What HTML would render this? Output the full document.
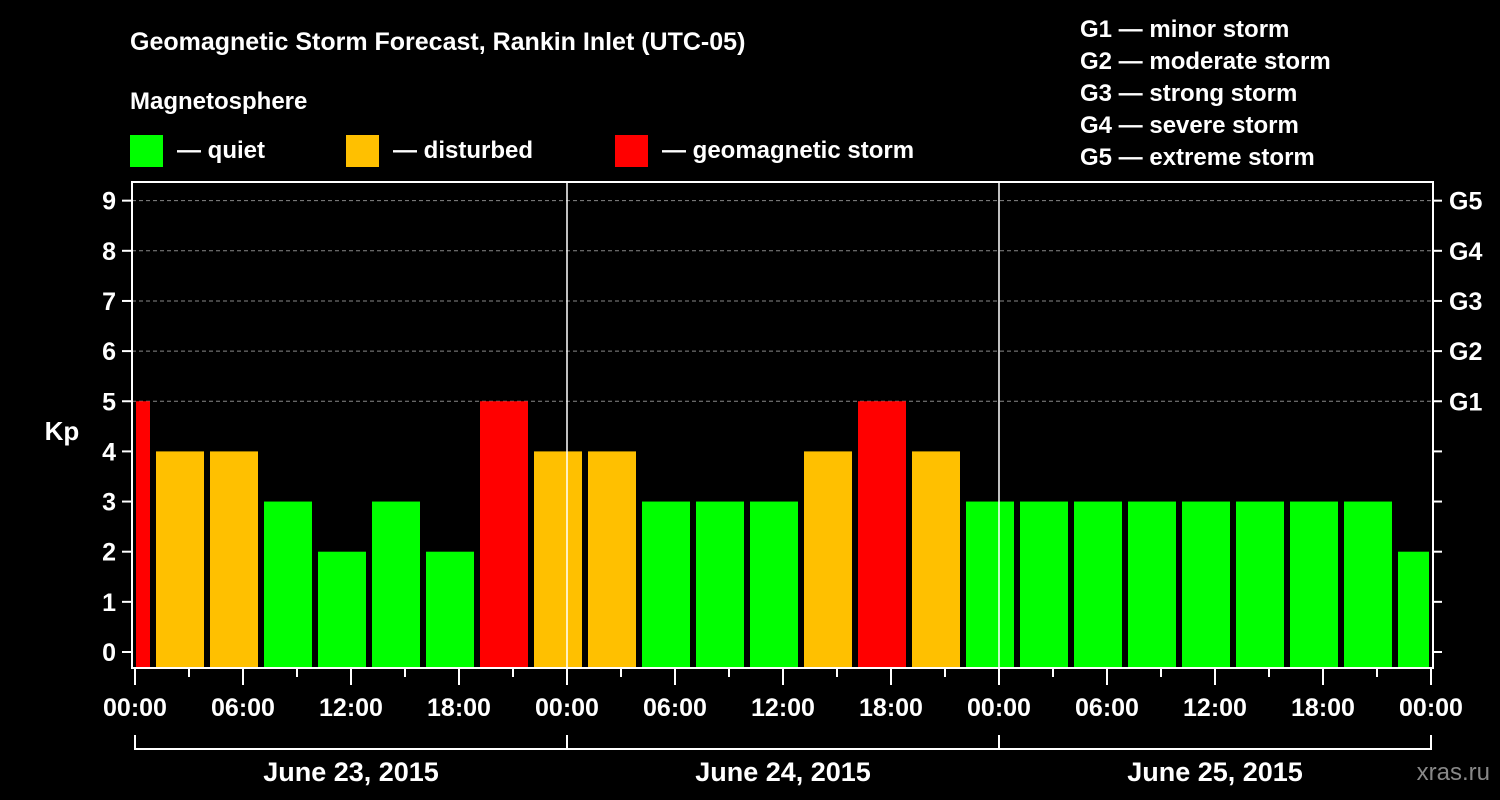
<!DOCTYPE html>
<html><head><meta charset="utf-8"><style>
html,body{margin:0;padding:0;background:#000;width:1500px;height:800px;overflow:hidden}
svg{display:block;font-family:"Liberation Sans",Arial,sans-serif;font-weight:bold}
</style></head><body>
<svg id="c" width="1500" height="800" viewBox="0 0 1500 800">
<text x="130" y="50" fill="#fff" font-size="25">Geomagnetic Storm Forecast, Rankin Inlet (UTC-05)</text>
<text x="130" y="109" fill="#fff" font-size="24">Magnetosphere</text>
<g><rect x="130" y="135" width="33" height="32" fill="#00ff00"/><text x="177" y="158" fill="#fff" font-size="24">— quiet</text></g>
<g><rect x="346" y="135" width="33" height="32" fill="#ffc000"/><text x="393" y="158" fill="#fff" font-size="24">— disturbed</text></g>
<g><rect x="615" y="135" width="33" height="32" fill="#ff0000"/><text x="662" y="158" fill="#fff" font-size="24">— geomagnetic storm</text></g>
<g fill="#fff" font-size="24">
<text x="1080" y="37">G1 — minor storm</text>
<text x="1080" y="69">G2 — moderate storm</text>
<text x="1080" y="101">G3 — strong storm</text>
<text x="1080" y="133">G4 — severe storm</text>
<text x="1080" y="165">G5 — extreme storm</text>
</g>
<text x="62" y="440" fill="#fff" font-size="26" text-anchor="middle">Kp</text>
<text x="1490" y="780" fill="#888" font-size="24" text-anchor="end" font-weight="normal">xras.ru</text>
<g id="plot"></g>
</svg>
<script>
const slotStarts=[-2,1,4,7,10,13,16,19,22,25,28,31,34,37,40,43,46,49,52,55,58,61,64,67,70];
const kpValues=[5,4,4,3,2,3,2,5,4,4,3,3,3,4,5,4,3,3,3,3,3,3,3,3,2];
const yTicks=[0,1,2,3,4,5,6,7,8,9];
const gLabels=["G1","G2","G3","G4","G5"];
const gLevels=[5,6,7,8,9];
const xTickLabels=["00:00","06:00","12:00","18:00","00:00","06:00","12:00","18:00","00:00","06:00","12:00","18:00","00:00"];
const dayLabels=["June 23, 2015","June 24, 2015","June 25, 2015"];
const NS="http://www.w3.org/2000/svg";
const g=document.getElementById('plot');
const L=132,R=1433,T=182,B=668;
const x=h=>135+h*18;
const y=v=>652-v*50.15;
function mk(t,a,p){const e=document.createElementNS(NS,t);for(const k in a)e.setAttribute(k,a[k]);(p||g).appendChild(e);return e;}
const col=v=>v>=5?'#ff0000':(v>=4?'#ffc000':'#00ff00');
yTicks.forEach(v=>{if(v>=5){const l=mk('line',{x1:L,x2:R,y1:y(v),y2:y(v),stroke:'#888','stroke-dasharray':'4,3','stroke-width':1});

}});
slotStarts.forEach((s,i)=>{let a=Math.max(x(s)+3,136),b=Math.min(x(s+3)-3,1429);
const r=mk('rect',{x:a,y:y(kpValues[i]),width:b-a,height:B-y(kpValues[i]),fill:col(kpValues[i])});

});
[24,48].forEach(h=>{const l=mk('line',{x1:x(h),x2:x(h),y1:T,y2:B,stroke:'#fff','stroke-width':1.5});

});
const fr=mk('rect',{x:L,y:T,width:R-L,height:B-T,fill:'none',stroke:'#fff','stroke-width':2});


yTicks.forEach(v=>{mk('line',{x1:122,x2:L,y1:y(v),y2:y(v),stroke:'#fff','stroke-width':2});
mk('line',{x1:R,x2:1442,y1:y(v),y2:y(v),stroke:'#fff','stroke-width':2});
const t=mk('text',{x:116,y:y(v)+9,fill:'#fff','font-size':25,'text-anchor':'end'});t.textContent=v;

});
gLabels.forEach((s,i)=>{const t=mk('text',{x:1449,y:y(gLevels[i])+9,fill:'#fff','font-size':25});t.textContent=s;

});
for(let h=0;h<=72;h+=3){const maj=h%6===0;mk('line',{x1:x(h),x2:x(h),y1:B,y2:maj?685:677,stroke:'#fff','stroke-width':2});}
xTickLabels.forEach((s,i)=>{const t=mk('text',{x:x(i*6),y:716,fill:'#fff','font-size':25,'text-anchor':'middle'});t.textContent=s;

});
mk('polyline',{points:`${x(0)},735 ${x(0)},749 ${x(72)},749 ${x(72)},735`,fill:'none',stroke:'#fff','stroke-width':2});
[24,48].forEach(h=>mk('line',{x1:x(h),x2:x(h),y1:735,y2:749,stroke:'#fff','stroke-width':2}));
dayLabels.forEach((s,i)=>{const t=mk('text',{x:x(i*24+12),y:781,fill:'#fff','font-size':27,'text-anchor':'middle'});t.textContent=s;

});
</script>
</body></html>
